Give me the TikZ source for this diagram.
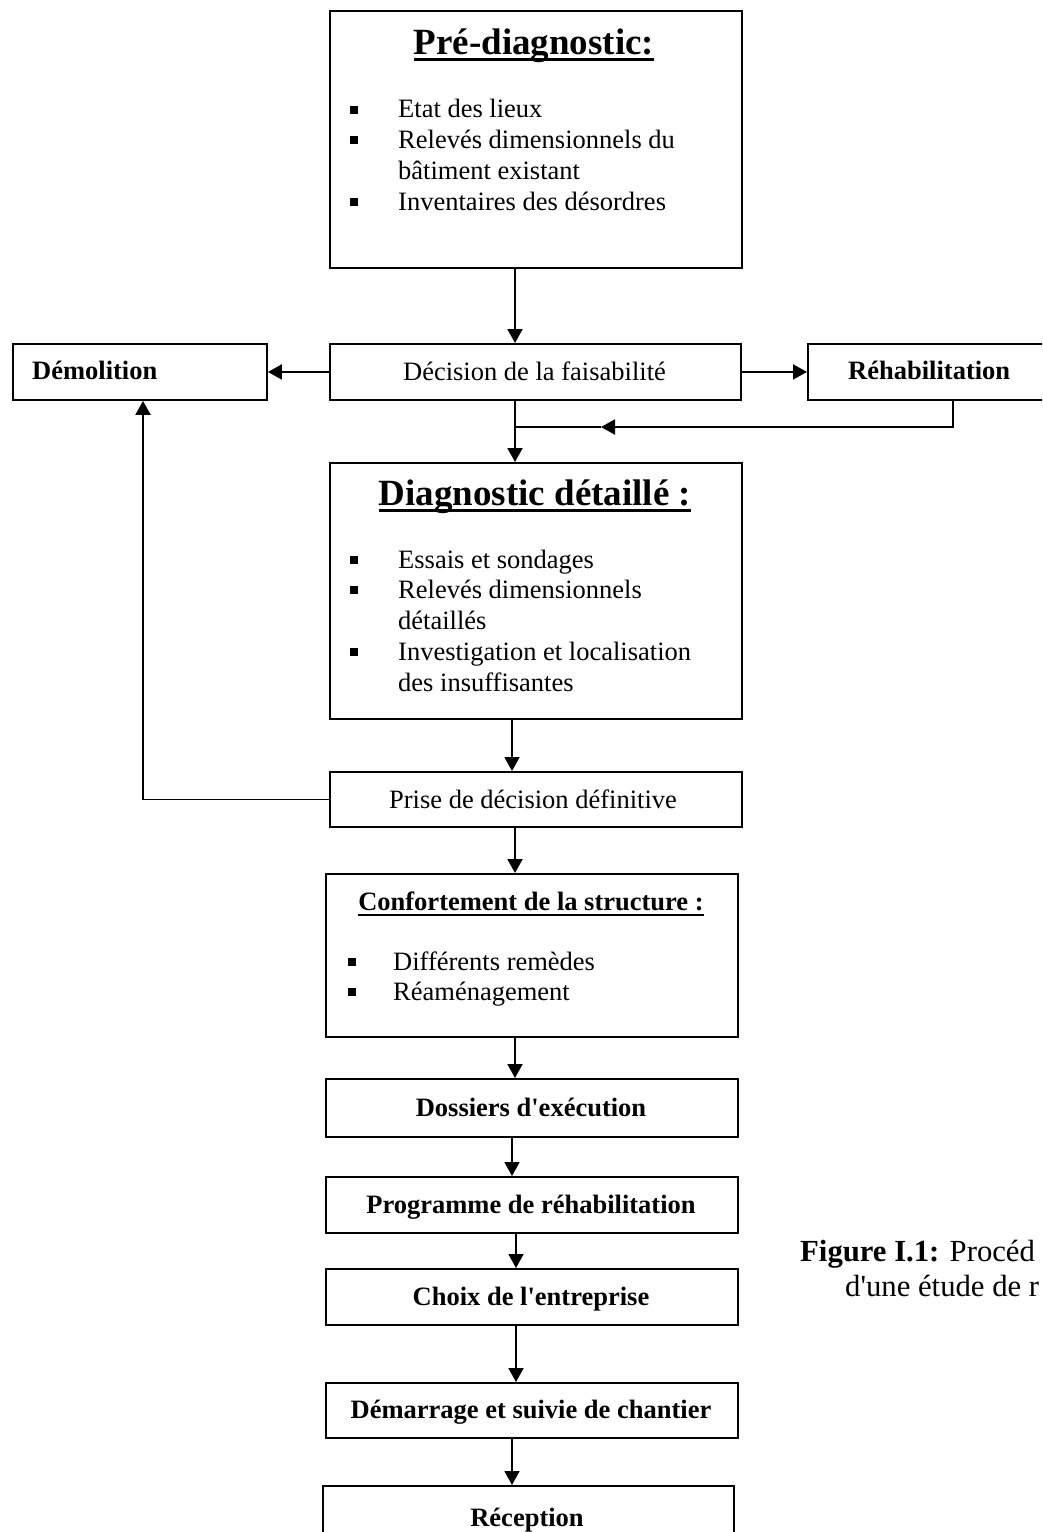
\documentclass[tikz,border=0pt]{standalone}
\usepackage{fontspec}
\setmainfont{Liberation Serif}
\usetikzlibrary{arrows.meta}
\begin{document}
\begin{tikzpicture}[x=1pt,y=-1pt,
  box/.style={draw,line width=1.9pt,rectangle,inner sep=0pt,anchor=north west},
  txt/.style={inner sep=0pt,font=\fontsize{26.5}{30.6}\selectfont},
  btxt/.style={txt,font=\fontsize{26.5}{30.6}\selectfont\bfseries},
  ttl/.style={inner sep=0pt,font=\fontsize{37}{40}\selectfont\bfseries},
  captxt/.style={inner sep=0pt,font=\fontsize{30.7}{35}\selectfont,anchor=base west},
  bul/.style={fill,rectangle,inner sep=0pt,minimum size=8pt},
  arr/.style={line width=1.9pt,-{Triangle[length=14pt,width=15pt]}},
  ln/.style={line width=1.9pt}]
\useasboundingbox (0,0) rectangle (1042,1532);
\begin{scope}
\clip (0,0) rectangle (1042,1532);
% boxes
\node[box,minimum width=412pt,minimum height=257pt] (pre) at (329,10) {};
\node[box,minimum width=411pt,minimum height=56pt] (dec) at (329,343) {};
\node[box,minimum width=254pt,minimum height=56pt] (dem) at (12,343) {};
\node[box,minimum width=245pt,minimum height=56pt] (reh) at (807,343) {};
\node[box,minimum width=412pt,minimum height=256pt] (diag) at (329,462) {};
\node[box,minimum width=412pt,minimum height=55pt] (prise) at (329,771) {};
\node[box,minimum width=412pt,minimum height=163pt] (conf) at (325,873) {};
\node[box,minimum width=412pt,minimum height=58pt] (doss) at (325,1078) {};
\node[box,minimum width=412pt,minimum height=56pt] (prog) at (325,1176) {};
\node[box,minimum width=412pt,minimum height=56pt] (choix) at (325,1268) {};
\node[box,minimum width=412pt,minimum height=55pt] (demar) at (325,1382) {};
\node[box,minimum width=411pt,minimum height=80pt] (rec) at (322,1485) {};

% Pre-diagnostic content
\node[ttl,anchor=base] (pret) at (534,54) {Pré-diagnostic:};
\draw[line width=3pt] ([yshift=-5pt]pret.base west) -- ([yshift=-5pt]pret.base east);
\node[bul] (pb1) at (354,110) {};
\node[bul] (pb2) at (354,140) {};
\node[bul] (pb3) at (354,202) {};
\node[txt,anchor=base west] (pl1) at (398,117) {Etat des lieux};
\node[txt,anchor=base west] (pl2) at (398,148) {Relevés dimensionnels du};
\node[txt,anchor=base west] (pl3) at (398,179) {bâtiment existant};
\node[txt,anchor=base west] (pl4) at (398,210) {Inventaires des désordres};

% single line boxes
\node[txt,anchor=base] (dect) at (534.5,380) {Décision de la faisabilité};
\node[btxt,anchor=base west] (demt) at (32,379) {Démolition};
\node[btxt,anchor=base west] (reht) at (848,379) {Réhabilitation};

% Diagnostic detaille content
\node[ttl,anchor=base] (diagt) at (535,505) {Diagnostic détaillé :};
\draw[line width=3pt] ([yshift=-5pt]diagt.base west) -- ([yshift=-5pt]diagt.base east);
\node[bul] (db1) at (354,560) {};
\node[bul] (db2) at (354,590) {};
\node[bul] (db3) at (354,652) {};
\node[txt,anchor=base west] (dl1) at (398,568) {Essais et sondages};
\node[txt,anchor=base west] (dl2) at (398,598) {Relevés dimensionnels};
\node[txt,anchor=base west] (dl3) at (398,629) {détaillés};
\node[txt,anchor=base west] (dl4) at (398,660) {Investigation et localisation};
\node[txt,anchor=base west] (dl5) at (398,691) {des insuffisantes};

\node[txt,anchor=base] (priset) at (533,808) {Prise de décision définitive};

% Confortement content
\node[btxt,anchor=base] (conft) at (531,910) {Confortement de la structure :};
\draw[line width=2pt] ([yshift=-5pt]conft.base west) -- ([yshift=-5pt]conft.base east);
\node[bul] (cb1) at (352,962) {};
\node[bul] (cb2) at (352,992) {};
\node[txt,anchor=base west] (cl1) at (393,970) {Différents remèdes};
\node[txt,anchor=base west] (cl2) at (393,1000) {Réaménagement};

\node[btxt,anchor=base] (dosst) at (531,1116) {Dossiers d\textquotesingle exécution};
\node[btxt,anchor=base] (progt) at (531,1213) {Programme de réhabilitation};
\node[btxt,anchor=base] (choixt) at (531,1305) {Choix de l\textquotesingle entreprise};
\node[btxt,anchor=base] (demart) at (531,1418) {Démarrage et suivie de chantier};
\node[btxt,anchor=base] (rect) at (527,1526) {Réception};

% caption
\node[captxt] (cap1) at (800,1261) {\textbf{Figure I.1:} Procéd};
\node[captxt] (cap2) at (845,1296) {d\textquotesingle une étude de r};

% connector reference coordinates
\coordinate (a515) at (515,0);
\coordinate (a512) at (512,0);
\coordinate (a516) at (516,0);
\coordinate (rx) at (953,0);
\coordinate (dx) at (143,0);
\coordinate (jm) at (601,427);
\coordinate (jn) at (515,427);

% connectors
\draw[arr] (pre.south -| a515) -- (dec.north -| a515);
\draw[arr] (dec.west) -- (dem.east);
\draw[arr] (dec.east) -- (reh.west);
\draw[arr] (dec.south -| a515) -- (diag.north -| a515);
\draw[arr] (reh.south -| rx) |- (jm);
\draw[ln] (jm) -- (jn);
\draw[arr] (diag.south -| a512) -- (prise.north -| a512);
\draw[arr] (prise.west) -| (dem.south -| dx);
\draw[arr] (prise.south -| a515) -- (conf.north -| a515);
\draw[arr] (conf.south -| a515) -- (doss.north -| a515);
\draw[arr] (doss.south -| a512) -- (prog.north -| a512);
\draw[arr] (prog.south -| a516) -- (choix.north -| a516);
\draw[arr] (choix.south -| a516) -- (demar.north -| a516);
\draw[arr] (demar.south -| a512) -- (rec.north -| a512);
\end{scope}
\end{tikzpicture}
\end{document}
